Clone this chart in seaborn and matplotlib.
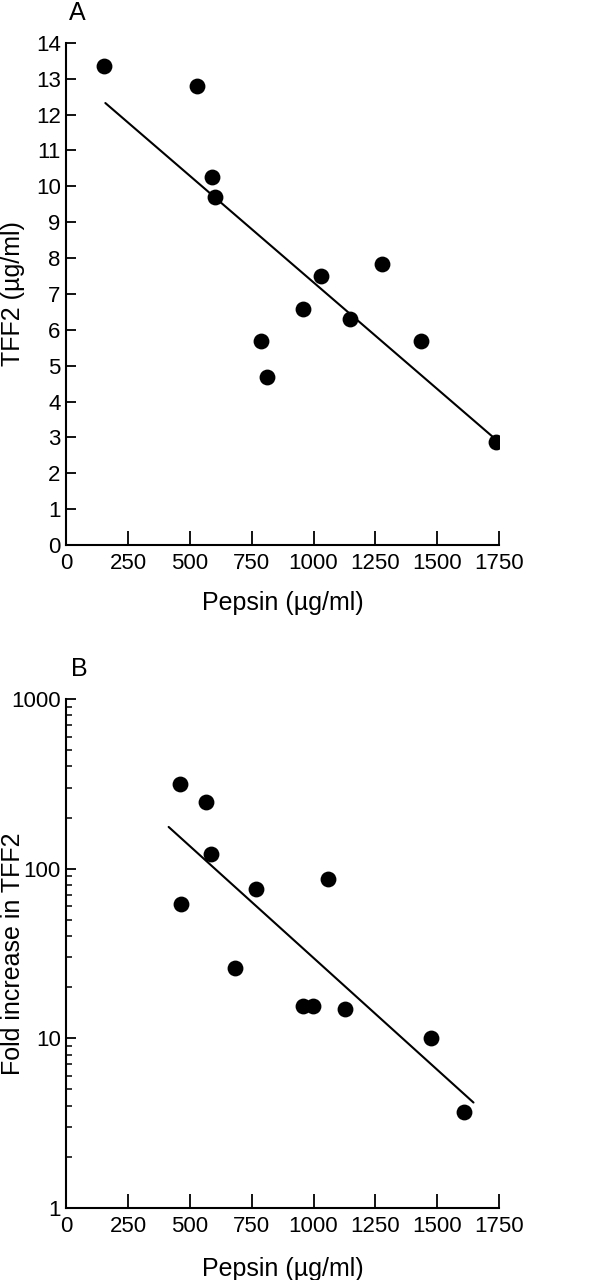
import matplotlib
matplotlib.use("Agg")
import matplotlib.pyplot as plt
import seaborn as sns
import pandas as pd
from matplotlib.ticker import LogLocator, NullFormatter

# Panel A: pepsin vs TFF2
pepsin_a = [151, 527, 588, 602, 787, 811, 957, 1030, 1149, 1278, 1433, 1738]
tff2_a = [13.35, 12.79, 10.26, 9.69, 5.69, 4.69, 6.59, 7.49, 6.31, 7.83, 5.69, 2.88]
fit_x_a = [158, 1741]
fit_y_a = [12.32, 2.92]

# Panel B: pepsin vs fold increase in TFF2 (log)
pepsin_b = [460, 463, 566, 585, 682, 766, 959, 999, 1057, 1129, 1475, 1609]
fold_b = [314, 62, 247, 122, 25.9, 76, 15.4, 15.4, 87, 14.9, 9.95, 3.65]
fit_x_b = [414, 1647]
fit_y_b = [176, 4.17]

x_ticks = [0, 250, 500, 750, 1000, 1250, 1500, 1750]
y_ticks_a = list(range(0, 15))
y_ticks_b = [1, 10, 100, 1000]
y_labels_b = ["1", "10", "100", "1000"]

df_a = pd.DataFrame({"Pepsin": pepsin_a, "TFF2": tff2_a})
df_b = pd.DataFrame({"Pepsin": pepsin_b, "Fold": fold_b})

sns.set_style("ticks")
plt.rcParams["font.family"] = ["Liberation Sans", "DejaVu Sans"]
plt.rcParams["axes.linewidth"] = 1.5
plt.rcParams["text.color"] = "black"
plt.rcParams["axes.labelcolor"] = "black"
plt.rcParams["axes.edgecolor"] = "black"

fig = plt.figure(figsize=(6.12, 12.8), dpi=100)
ax1 = fig.add_axes([0.1083, 0.5742, 0.707, 0.3924])
ax2 = fig.add_axes([0.1083, 0.0565, 0.707, 0.3974])

# top panel
sns.scatterplot(data=df_a, x="Pepsin", y="TFF2", ax=ax1, color="black",
                s=130, edgecolor="black", linewidth=0, zorder=3)
sns.lineplot(x=fit_x_a, y=fit_y_a, ax=ax1, color="black", linewidth=1.5)
ax1.set_xlim(0, 1750)
ax1.set_ylim(0, 14)
ax1.set_xticks(x_ticks)
ax1.set_yticks(y_ticks_a)

# bottom panel
sns.scatterplot(data=df_b, x="Pepsin", y="Fold", ax=ax2, color="black",
                s=130, edgecolor="black", linewidth=0, zorder=3)
sns.lineplot(x=fit_x_b, y=fit_y_b, ax=ax2, color="black", linewidth=1.5)
ax2.set_yscale("log")
ax2.set_xlim(0, 1750)
ax2.set_ylim(1, 1000)
ax2.set_xticks(x_ticks)
ax2.set_yticks(y_ticks_b, labels=y_labels_b)
ax2.yaxis.set_minor_locator(LogLocator(base=10, subs=range(2, 10)))
ax2.yaxis.set_minor_formatter(NullFormatter())

for ax in (ax1, ax2):
    sns.despine(ax=ax)
    ax.tick_params(axis="both", which="major", direction="in", labelsize=16,
                   width=1.3, color="black", labelcolor="black")
    ax.tick_params(axis="y", which="major", length=7, pad=4)
    ax.tick_params(axis="x", which="major", length=10, pad=6)
    ax.tick_params(axis="y", which="minor", direction="in", length=4.5,
                   width=1.1, color="black")
    ax.tick_params(axis="x", which="minor", length=0)
    ax.grid(False)

ax1.set_xlabel("Pepsin (µg/ml)", fontsize=18, va="top")
ax1.set_ylabel("TFF2 (µg/ml)", fontsize=18)
ax1.xaxis.set_label_coords(0.5, -0.092)
ax1.yaxis.set_label_coords(-0.096, 0.5)

ax2.set_xlabel("Pepsin (µg/ml)", fontsize=18, va="top")
ax2.set_ylabel("Fold increase in TFF2", fontsize=18)
ax2.xaxis.set_label_coords(0.5, -0.097)
ax2.yaxis.set_label_coords(-0.096, 0.5)

fig.text(69 / 612, 1 - 1 / 1280, "A", fontsize=18, ha="left", va="top")
fig.text(71 / 612, 1 - 657 / 1280, "B", fontsize=18, ha="left", va="top")

fig.savefig("out.png", dpi=100)
